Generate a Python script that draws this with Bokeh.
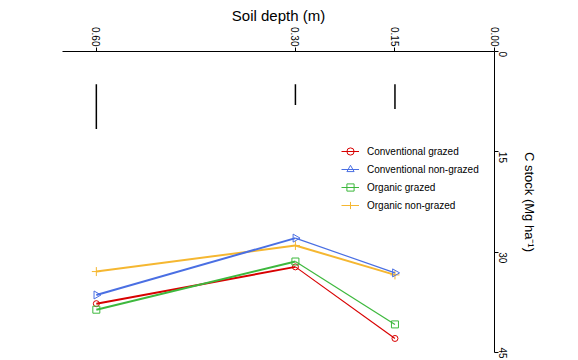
import math
from bokeh.plotting import figure
from bokeh.models import Range1d, FixedTicker, Legend, LegendItem
from bokeh.embed import file_html
from bokeh.resources import INLINE

# ---- data ----
depth = [0.60, 0.30, 0.15]
conv_grazed = [37.7, 32.2, 42.9]
conv_nongrazed = [36.4, 27.9, 33.1]
org_grazed = [38.6, 31.4, 40.8]
org_nongrazed = [32.9, 29.0, 33.4]

bar_depth = [0.60, 0.30, 0.15]
bar_low = [4.9, 4.9, 4.9]
bar_high = [11.6, 8.0, 8.6]

depth_ticks = [0.0, 0.15, 0.30, 0.60]
depth_tick_labels = ["0.00", "0.15", "0.30", "0.60"]
stock_ticks = [0, 15, 30, 45]

series = [
    ("Organic non-grazed", org_nongrazed, "#F5B731", "cross", 9, 0.0, 2.0, 2.0),
    ("Conventional non-grazed", conv_nongrazed, "#4A6FE3", "triangle", 8, -math.pi / 2, 2.0, 1.2),
    ("Conventional grazed", conv_grazed, "#D80000", "circle", 6, 0.0, 2.0, 1.2),
    ("Organic grazed", org_grazed, "#3DB83D", "square", 7, 0.0, 2.0, 1.2),
]
legend_order = ["Conventional grazed", "Conventional non-grazed", "Organic grazed", "Organic non-grazed"]

FONT = "'Liberation Sans Narrow', 'Liberation Sans'"

p = figure(
    width=576, height=358,
    x_range=Range1d(0.651, 0.0), y_range=Range1d(45, 0),
    x_axis_location="above", y_axis_location="right",
    output_backend="svg", toolbar_location=None,
    min_border_left=62, min_border_top=51, min_border_right=82, min_border_bottom=6,
)
p.grid.visible = False
p.outline_line_color = None
p.background_fill_color = "white"

xa = p.xaxis[0]
xa.ticker = FixedTicker(ticks=depth_ticks)
xa.major_label_overrides = {t: l for t, l in zip(depth_ticks, depth_tick_labels)}
xa.axis_label = "Soil depth (m)"
ya = p.yaxis[0]
ya.ticker = FixedTicker(ticks=stock_ticks)
ya.axis_label = "C stock (Mg ha\u207b\u00b9)"

for ax in (xa, ya):
    ax.minor_tick_line_color = None
    ax.major_tick_in = 0
    ax.major_tick_out = 4
    ax.axis_line_color = "black"
    ax.major_tick_line_color = "black"
    ax.major_label_text_font = FONT
    ax.major_label_text_font_size = "10px"
    ax.major_label_text_color = "black"
    ax.major_label_orientation = -math.pi / 2
    ax.major_label_standoff = 2
    ax.axis_label_text_font_style = "normal"
    ax.axis_label_text_color = "black"

xa.major_label_standoff = 1
xa.axis_label_text_font = FONT
xa.axis_label_text_font_size = "15px"
xa.axis_label_standoff = 0
ya.major_label_standoff = 4
ya.axis_label_text_font = FONT
ya.axis_label_text_font_size = "13px"
ya.axis_label_standoff = 8

# vertical bars
p.segment(x0=bar_depth, y0=bar_low, x1=bar_depth, y1=bar_high, line_color="black", line_width=1.5)

items = {}
for name, vals, color, marker, size, angle, w1, w2 in series:
    p.line(depth[0:2], vals[0:2], line_color=color, line_width=w1)
    p.line(depth[1:3], vals[1:3], line_color=color, line_width=w2)
    p.scatter(depth, vals, marker=marker, size=size, angle=angle,
              line_color=color, fill_color=None, line_width=1)
    # legend proxies placed off the visible range
    lr = p.line([-1, -1.1], [vals[0], vals[0]], line_color=color, line_width=1)
    sr = p.scatter([-1], [vals[0]], marker=marker, size=size,
                   line_color=color, fill_color=None, line_width=1)
    items[name] = LegendItem(label=name, renderers=[lr, sr])

legend = Legend(items=[items[n] for n in legend_order], location=(279, 138))
legend.padding = 0
legend.margin = 0
legend.spacing = 0
legend.glyph_width = 18
legend.glyph_height = 18
legend.label_height = 18
legend.label_standoff = 8
legend.label_text_font = FONT
legend.label_text_font_size = "10px"
legend.label_text_color = "black"
legend.border_line_color = None
legend.background_fill_color = None
p.add_layout(legend, "center")

open("out.html", "w").write(file_html(p, INLINE))
